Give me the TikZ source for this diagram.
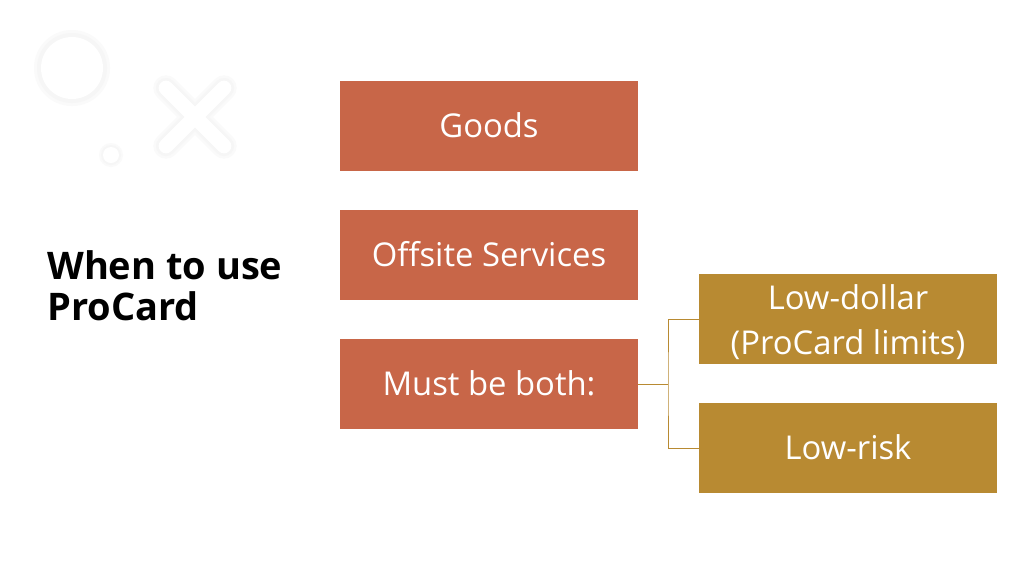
\documentclass[tikz,border=0pt]{standalone}
\usepackage{fontspec}
\setmainfont{Open Sans}
\definecolor{rust}{RGB}{200,102,72}
\definecolor{gold}{RGB}{184,138,50}
\begin{document}
\begin{tikzpicture}[x=0.75pt,y=-0.75pt,
  txt/.style={text=white,align=center,font=\fontsize{24.6}{33.75}\selectfont,inner sep=0pt},
  box/.style={txt,anchor=north west,minimum width=223.5pt,minimum height=67.5pt,outer sep=0pt},
  rbox/.style={box,fill=rust},
  gbox/.style={box,fill=gold},
  link/.style={draw=gold,line width=0.75pt},
  ]
\useasboundingbox[fill=white] (0,0) rectangle (1024,576);
% decorative shapes
\fill[black!2] (72,68) circle (38);
\fill[black!3.5] (72,68) circle (35);
\fill[white] (72,68) circle (31);
\fill[black!2] (111,155) circle (12);
\fill[black!3.5] (111,155) circle (10);
\fill[white] (111,155) circle (8);
\draw[black!2,line width=19pt,line cap=round] (166,88) -- (224,146) (224,88) -- (166,146);
\draw[black!3.5,line width=15pt,line cap=round] (166,88) -- (224,146) (224,88) -- (166,146);
\draw[white,line width=11pt,line cap=round] (166,88) -- (224,146) (224,88) -- (166,146);
% title
\node[anchor=west,align=left,inner sep=0pt,font=\fontsize{28.5}{30.75}\selectfont\bfseries] (title) at (47,286) {When to use\\ProCard};
% boxes
\node[rbox] (goods) at (340,81) {\raisebox{1.2pt}{Goods}};
\node[rbox] (offsite) at (340,210) {\raisebox{1.2pt}{Offsite Services}};
\node[rbox] (must) at (340,339) {\raisebox{1.2pt}{Must be both:}};
\node[gbox] (lowd) at (699,274) {};
\node[txt] (lowdtext) at ([yshift=-2.2pt]lowd.center) {Low-dollar\\(ProCard limits)};
\node[gbox] (lowr) at (699,403) {\raisebox{1.2pt}{Low-risk}};
% connectors
\coordinate (j) at (668,384);
\draw[link] (must.east) -- (j);
\draw[link] (lowd.west) -| (j) |- (lowr.west);
\end{tikzpicture}
\end{document}
